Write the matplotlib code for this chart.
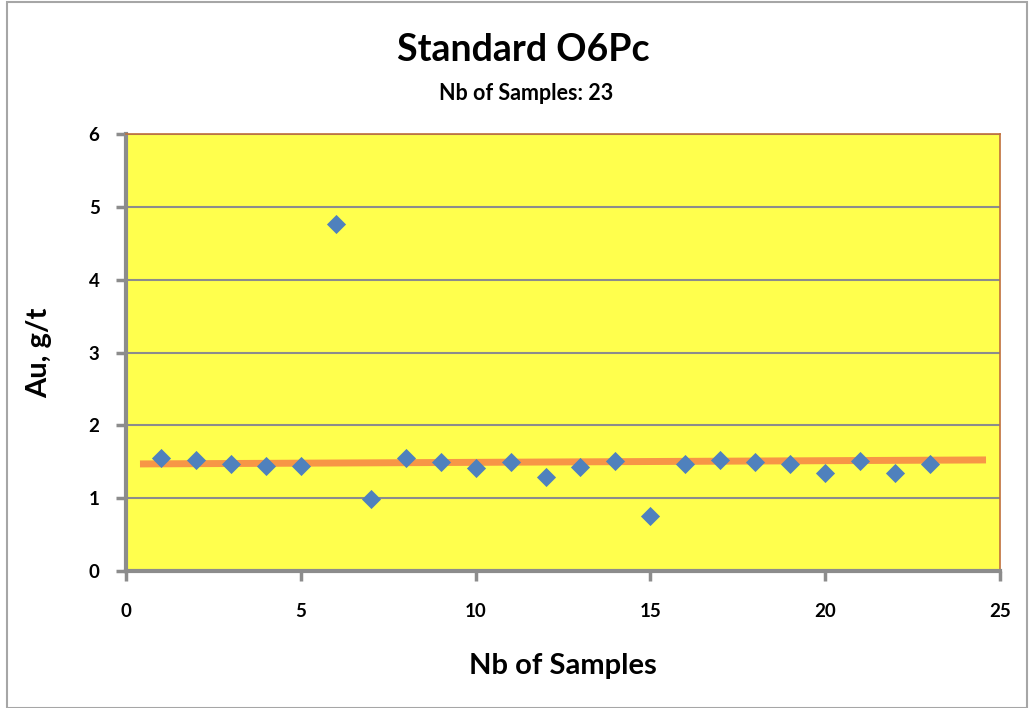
import matplotlib
matplotlib.use("Agg")
import matplotlib.pyplot as plt
from matplotlib.patches import Rectangle

sample_no = list(range(1, 24))
au_values = [1.55, 1.52, 1.47, 1.44, 1.44, 4.76, 0.99, 1.55, 1.50, 1.41, 1.50, 1.29,
             1.43, 1.51, 0.76, 1.47, 1.52, 1.50, 1.47, 1.35, 1.51, 1.35, 1.47]
trend_x = [0.4, 24.6]
trend_y = [1.47, 1.525]

plt.rcParams['font.family'] = ['Lato', 'DejaVu Sans']

fig = plt.figure(figsize=(10.30, 7.08), dpi=100)
W, H = 1030, 708
ax = fig.add_axes([126 / W, 1 - 571 / H, (1000 - 126) / W, (571 - 134) / H])
ax.set_facecolor('#FFFF4D')

ax.scatter(sample_no, au_values, marker='D', s=95, color='#4F81BD', zorder=3, linewidths=0)
ax.plot(trend_x, trend_y, color='#F79646', lw=5, zorder=2, solid_capstyle='butt')

ax.set_xlim(0, 25)
ax.set_ylim(0, 6)
ax.set_xticks(range(0, 26, 5))
ax.set_yticks(range(0, 7))
ax.grid(axis='y', color='#8C8C8C', lw=1.5)
ax.set_axisbelow(True)

for s in ['left', 'bottom']:
    ax.spines[s].set_color('#8C8C8C')
    ax.spines[s].set_linewidth(3)
for s in ['right', 'top']:
    ax.spines[s].set_color('#C0703A')
    ax.spines[s].set_linewidth(1.2)

ax.tick_params(axis='both', colors='#8C8C8C', width=2.5, length=7, direction='out',
               labelcolor='black', labelsize=13.5)
for lab in ax.get_xticklabels() + ax.get_yticklabels():
    lab.set_fontweight('bold')
ax.tick_params(axis='x', pad=16)
ax.tick_params(axis='y', pad=12)

ax.set_xlabel('Nb of Samples', fontsize=21, fontweight='bold', labelpad=24)
ax.set_ylabel('Au, g/t', fontsize=21, fontweight='bold', labelpad=26)

fig.text(523 / W, 1 - 50 / H, 'Standard O6Pc', ha='center', va='center',
         fontsize=27, fontweight='bold')
fig.text(526 / W, 1 - 93 / H, 'Nb of Samples: 23', ha='center', va='center',
         fontsize=15.5, fontweight='bold')

fig.patches.append(Rectangle((7 / W, 0), (1027 - 7) / W, 1 - 2 / H, transform=fig.transFigure,
                             fill=False, edgecolor='#A6A6A6', lw=1.5))

fig.savefig('out.png', dpi=100)
